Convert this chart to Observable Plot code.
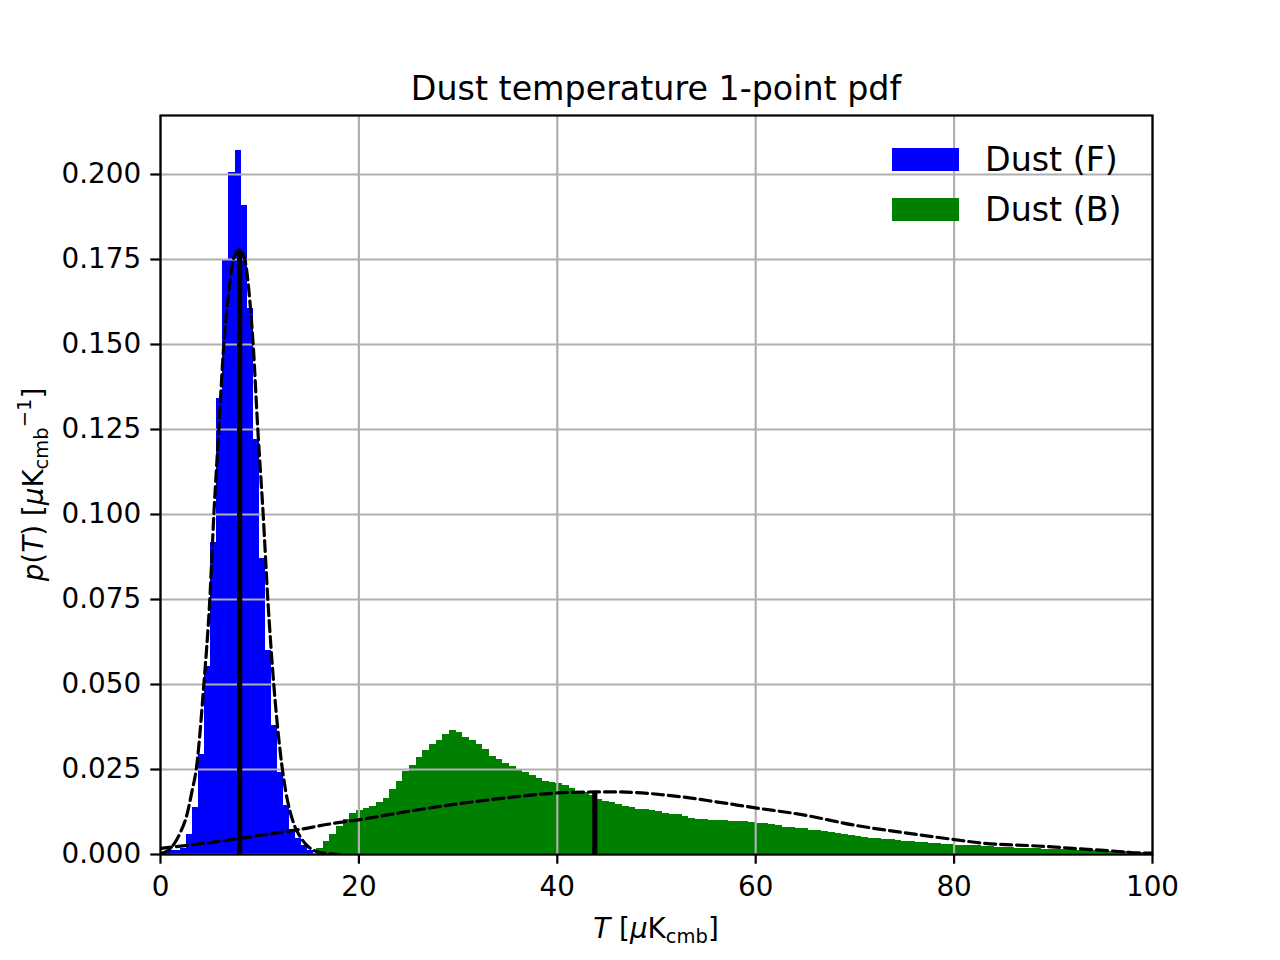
<!DOCTYPE html>
<html>
<head>
<meta charset="utf-8">
<script src="https://cdn.jsdelivr.net/npm/d3@7"></script>
<script src="https://cdn.jsdelivr.net/npm/@observablehq/plot@0.6"></script>
<style>
  html, body { margin: 0; padding: 0; background: #ffffff; }
  #chart svg { display: block; }
</style>
</head>
<body>
<div id="chart"></div>
<script>
// ---- Data ----
const titleText = "Dust temperature 1-point pdf";
const seriesNames = ["Dust (F)", "Dust (B)"];
const seriesColors = ["#0000ff", "#008000"];

const xTicks = [0, 20, 40, 60, 80, 100];
const yTicks = [0, 0.025, 0.05, 0.075, 0.1, 0.125, 0.15, 0.175, 0.2];

// Dust (F) histogram: first bin edge, bin width, densities
const fBinStart = 0.18;
const fBinWidth = 0.611;
const fDensity = [0.0006, 0.0011, 0.0012, 0.0019, 0.0060, 0.0138, 0.0293, 0.0553, 0.0919, 0.1340,
  0.1750, 0.2007, 0.2070, 0.1910, 0.1605, 0.1220, 0.0870, 0.0600, 0.0380, 0.0240,
  0.0145, 0.0074, 0.0047, 0.0027, 0.0013];

// Dust (B) histogram
const bBinStart = 15.73;
const bBinWidth = 0.6704;
const bDensity = [0.0018, 0.0038, 0.0059, 0.0082, 0.0102, 0.0120, 0.0129, 0.0135, 0.0141, 0.0153,
  0.0165, 0.0191, 0.0215, 0.0244, 0.0262, 0.0286, 0.0306, 0.0323, 0.0335, 0.0352,
  0.0365, 0.0359, 0.0343, 0.0335, 0.0324, 0.0308, 0.0288, 0.0278, 0.0268, 0.0259,
  0.0249, 0.0242, 0.0232, 0.0223, 0.0216, 0.0213, 0.0208, 0.0202, 0.0193, 0.0186,
  0.0183, 0.0174, 0.0162, 0.0157, 0.0154, 0.0148, 0.0140, 0.0137, 0.0133, 0.0131,
  0.0128, 0.0127, 0.0122, 0.0118, 0.0117, 0.0112, 0.0106, 0.0103, 0.0102, 0.0101,
  0.0100, 0.0099, 0.0097, 0.0097, 0.0096, 0.0095, 0.0092, 0.0090, 0.0087, 0.0084,
  0.0079, 0.0078, 0.0077, 0.0075, 0.0072, 0.0070, 0.0068, 0.0064, 0.0061, 0.0058,
  0.0055, 0.0053, 0.0050, 0.0048, 0.0046, 0.0044, 0.0043, 0.0041, 0.0039, 0.0037,
  0.0035, 0.0034, 0.0032, 0.0031, 0.0029, 0.0028, 0.0027, 0.0026, 0.0025, 0.0025,
  0.0024, 0.0023, 0.0022, 0.0021, 0.0020, 0.0019, 0.0018, 0.0017, 0.0017, 0.0016,
  0.0016, 0.0015, 0.0014, 0.0014, 0.0013, 0.0012, 0.0011, 0.0011, 0.0010, 0.0009,
  0.0009, 0.0008, 0.0007, 0.0007, 0.0006, 0.0006];

// Dashed fit curves
const fFitX = [0, 0.67, 1.34, 2.02, 2.6, 3.19, 3.6, 4.37, 4.97, 5.38, 5.88, 6.38, 7.0, 7.33, 7.98,
  8.5, 9.0, 9.34, 9.81, 10.35, 10.82, 11.42, 12.2, 12.6, 13.44, 14.11, 14.78, 15.45, 16.1, 17.0, 18.0];
const fFitY = [0.0002, 0.001, 0.003, 0.0066, 0.011, 0.0188, 0.025, 0.05, 0.075, 0.1, 0.125, 0.15, 0.168, 0.175, 0.1778,
  0.175, 0.163, 0.15, 0.125, 0.1, 0.075, 0.05, 0.027, 0.019, 0.009, 0.0051, 0.0026, 0.0012, 0.0006, 0.0002, 0.0];

const bFitX = [0, 3, 6.05, 11.1, 14.1, 17.1, 20, 25, 30, 35, 40, 44, 46, 52.1, 56, 60, 64.5, 70.2, 75, 80, 82.7, 88.4, 95.1, 99.8, 100];
const bFitY = [0.0018, 0.0028, 0.0039, 0.0061, 0.0074, 0.009, 0.0102, 0.0127, 0.0149, 0.0167, 0.0181, 0.0184, 0.0184,
  0.0171, 0.0155, 0.0137, 0.0118, 0.0085, 0.0064, 0.0044, 0.0034, 0.0025, 0.0012, 0.0004, 0.0004];

// Vertical markers (location, height)
const fMean = 7.98, fMeanHeight = 0.1778;
const bMean = 43.78, bMeanHeight = 0.0182;

// ---- Build tables for the library ----
const fBars = fDensity.map((d, i) => ({x1: fBinStart + i * fBinWidth, x2: fBinStart + (i + 1) * fBinWidth, y: d}));
const bBars = bDensity.map((d, i) => ({x1: bBinStart + i * bBinWidth, x2: bBinStart + (i + 1) * bBinWidth, y: d}));
const fFit = fFitX.map((x, i) => ({x, y: fFitY[i]}));
const bFit = bFitX.map((x, i) => ({x, y: bFitY[i]}));
const markers = [{x: fMean, y: fMeanHeight}, {x: bMean, y: bMeanHeight}];

const FONT = "DejaVu Sans";
const dash = {stroke: "black", strokeWidth: 3.2, strokeDasharray: "11,5", curve: "monotone-x", clip: true};

const chart = Plot.plot({
  width: 1280,
  height: 960,
  marginLeft: 160,
  marginRight: 128,
  marginTop: 115,
  marginBottom: 106,
  style: {fontFamily: FONT, background: "#ffffff", color: "black"},
  x: {domain: [0, 100]},
  y: {domain: [0, 0.21735]},
  marks: [
    Plot.rectY(fBars, {x1: "x1", x2: "x2", y: "y", fill: seriesColors[0], shapeRendering: "crispEdges", clip: true}),
    Plot.rectY(bBars, {x1: "x1", x2: "x2", y: "y", fill: seriesColors[1], shapeRendering: "crispEdges", clip: true}),
    Plot.gridX({ticks: xTicks, stroke: "#b0b0b0", strokeOpacity: 1, strokeWidth: 2.2}),
    Plot.gridY({ticks: yTicks, stroke: "#b0b0b0", strokeOpacity: 1, strokeWidth: 2.2}),
    Plot.line(fFit, {x: "x", y: "y", ...dash}),
    Plot.line(bFit, {x: "x", y: "y", ...dash}),
    Plot.ruleX(markers, {x: "x", y1: 0, y2: "y", stroke: "black", strokeWidth: 5.2}),
    Plot.frame({stroke: "black", strokeWidth: 2.2}),
    Plot.axisX({ticks: xTicks, tickSize: 9.7, tickPadding: 12, strokeWidth: 2.2, fontSize: 27.8, label: null, tickFormat: d3.format("d")}),
    Plot.axisY({ticks: yTicks, tickSize: 9.7, tickPadding: 9.7, strokeWidth: 2.2, fontSize: 27.8, label: null, tickFormat: d3.format(".3f")})
  ]
});

document.getElementById("chart").appendChild(chart);

// ---- Title, axis labels and legend as real text ----
const svg = d3.select(chart);
const plotCenterX = (160 + 1152) / 2;

svg.append("text")
  .attr("x", plotCenterX).attr("y", 99.5)
  .attr("text-anchor", "middle")
  .attr("font-family", FONT).attr("font-size", 33.3).attr("fill", "black")
  .text(titleText);

// x label: T [μK_cmb]
const xl = svg.append("text")
  .attr("x", plotCenterX).attr("y", 938)
  .attr("text-anchor", "middle")
  .attr("font-family", FONT).attr("font-size", 27.8).attr("fill", "black");
xl.append("tspan").attr("font-style", "italic").text("T");
xl.append("tspan").text(" [");
xl.append("tspan").attr("font-style", "italic").text("μ");
xl.append("tspan").text("K");
xl.append("tspan").attr("font-size", 19.5).attr("dy", 5).text("cmb");
xl.append("tspan").attr("dy", -5).text("]");

// y label: p(T) [μK_cmb^-1]
const yl = svg.append("text")
  .attr("transform", `translate(43,${(115 + 854) / 2}) rotate(-90)`)
  .attr("text-anchor", "middle")
  .attr("font-family", FONT).attr("font-size", 27.8).attr("fill", "black");
yl.append("tspan").attr("font-style", "italic").text("p");
yl.append("tspan").text("(");
yl.append("tspan").attr("font-style", "italic").text("T");
yl.append("tspan").text(") [");
yl.append("tspan").attr("font-style", "italic").text("μ");
yl.append("tspan").text("K");
yl.append("tspan").attr("font-size", 19.5).attr("dy", 5).text("cmb");
yl.append("tspan").attr("font-size", 19.5).attr("dy", -17).text("\u22121");
yl.append("tspan").attr("dy", 12).text("]");

// legend (no frame)
const legendRows = [
  {name: seriesNames[0], color: seriesColors[0], top: 148},
  {name: seriesNames[1], color: seriesColors[1], top: 198}
];
legendRows.forEach(r => {
  svg.append("rect").attr("x", 892).attr("y", r.top).attr("width", 67).attr("height", 23).attr("fill", r.color);
  svg.append("text").attr("x", 985).attr("y", r.top + 22.5)
    .attr("text-anchor", "start")
    .attr("font-family", FONT).attr("font-size", 33.3).attr("fill", "black").text(r.name);
});
</script>
</body>
</html>
